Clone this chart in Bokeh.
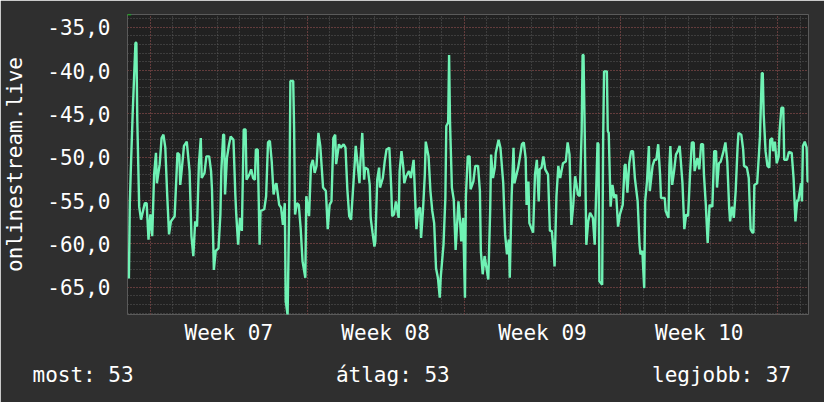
from bokeh.plotting import figure
from bokeh.models import Range1d, FixedTicker, Grid, Label, Title
from bokeh.embed import file_html
from bokeh.resources import INLINE

# hours from Monday 00:00 of week 07
hours = [-23, -22, -21, -19, -16, -15, -14, -12, -10, -6, -4, -2, 0, 2, 4, 6, 7, 10, 12, 14,
         16, 18, 20, 22, 26, 28, 29, 31, 32, 34, 36, 39, 42, 44, 46, 48, 50, 52, 54, 55,
         58, 60, 63, 65, 66, 68, 70, 73, 75, 76, 78, 79, 80, 82, 84, 86, 89, 91, 92, 94,
         96, 98, 100, 102, 103, 106, 108, 110, 112, 113, 115, 117, 118, 122, 124, 126, 128, 130, 132, 134,
         135, 138, 140, 142, 144, 145, 147, 149, 150, 153, 154, 155, 157, 159, 161, 163, 166, 167, 170, 172,
         174, 176, 178, 180, 182, 185, 188, 190, 192, 194, 196, 198, 199, 202, 204, 207, 209, 211, 213, 215,
         219, 220, 222, 224, 225, 227, 229, 230, 233, 235, 236, 238, 240, 241, 243, 245, 246, 249, 251, 253,
         256, 258, 259, 261, 263, 266, 267, 269, 271, 272, 274, 277, 279, 282, 284, 285, 287, 289, 290, 292,
         294, 295, 298, 300, 302, 304, 306, 308, 310, 311, 314, 316, 317, 319, 320, 321, 323, 325, 327, 330,
         332, 333, 335, 337, 338, 340, 342, 343, 346, 348, 351, 353, 354, 356, 358, 362, 364, 365, 367, 369,
         370, 373, 375, 378, 380, 382, 384, 385, 387, 389, 390, 394, 396, 398, 400, 402, 403, 405, 406, 410,
         412, 414, 416, 417, 419, 421, 423, 426, 428, 430, 432, 433, 435, 437, 439, 442, 445, 447, 449, 451,
         453, 455, 458, 460, 462, 463, 464, 465, 466, 467, 469, 471, 474, 476, 479, 480, 481, 484, 485, 486,
         489, 490, 491, 493, 495, 497, 499, 501, 503, 506, 508, 509, 511, 513, 515, 517, 519, 522, 524, 525,
         527, 529, 530, 532, 534, 535, 538, 540, 542, 544, 546, 547, 551, 552, 555, 556, 557, 559, 561, 563,
         565, 567, 570, 572, 574, 576, 578, 580, 582, 583, 586, 588, 590, 592, 593, 595, 597, 599, 602, 604,
         606, 607, 609, 611, 614, 616, 618, 620, 621, 623, 625, 627, 629, 630, 633, 635, 636, 639, 641, 643,
         645, 646, 647, 650, 652, 653, 655, 656, 657, 659, 661, 663, 664, 666, 667, 669, 671, 673, 674, 676,
         678, 679, 682, 684, 687, 689, 691, 693, 694, 697, 698, 699, 701, 703, 704, 705]

values = [-64.0, -55.3, -51.6, -45.1, -36.8, -36.8, -45.8, -55.7, -57.2, -55.3, -55.3, -59.5, -56.6, -59.1, -52.0, -49.5, -53.0, -50.8, -47.8, -47.4,
          -48.9, -54.3, -58.9, -57.4, -56.8, -52.0, -49.5, -49.7, -53.2, -51.0, -48.7, -48.2, -51.6, -59.1, -61.4, -57.4, -58.0, -50.8, -47.8, -52.4,
          -51.8, -49.9, -49.9, -51.6, -53.7, -63.0, -60.8, -60.5, -56.6, -51.6, -47.4, -47.4, -54.3, -50.1, -48.7, -47.6, -48.0, -54.3, -56.6, -60.1,
          -57.0, -58.5, -46.8, -46.8, -52.6, -52.0, -51.4, -52.4, -52.6, -49.1, -49.1, -60.1, -56.2, -56.0, -54.5, -48.3, -48.1, -50.5, -54.3, -53.2,
          -53.0, -55.5, -55.8, -57.8, -55.3, -66.6, -68.2, -53.7, -41.2, -41.2, -46.8, -56.6, -55.3, -55.5, -58.2, -62.0, -63.9, -54.5, -56.8, -51.0,
          -50.3, -51.8, -51.0, -47.2, -48.7, -53.5, -53.9, -58.3, -55.5, -55.1, -47.8, -47.4, -50.8, -48.5, -48.9, -48.5, -48.9, -53.7, -56.8, -57.2,
          -50.5, -48.7, -50.8, -53.0, -50.5, -47.2, -52.6, -51.2, -51.4, -53.2, -57.0, -58.7, -60.3, -59.7, -52.6, -51.2, -53.5, -52.4, -50.5, -49.1,
          -48.9, -53.5, -56.8, -56.6, -55.1, -57.0, -51.6, -49.3, -51.2, -53.0, -52.2, -51.6, -52.4, -50.3, -55.7, -58.3, -56.0, -55.8, -59.3, -56.2,
          -52.0, -48.2, -49.9, -53.9, -56.2, -57.6, -62.8, -63.9, -66.2, -63.9, -60.1, -54.7, -46.4, -46.0, -38.2, -46.0, -53.5, -54.9, -60.7, -55.1,
          -57.8, -59.7, -57.0, -66.2, -54.5, -49.9, -49.9, -53.7, -52.8, -51.0, -51.0, -53.9, -60.8, -63.5, -61.4, -64.1, -56.2, -49.7, -52.4, -51.2,
          -49.5, -48.0, -48.9, -53.0, -58.9, -61.2, -59.5, -63.9, -54.5, -48.9, -53.0, -51.2, -49.9, -48.5, -48.3, -50.1, -55.5, -52.8, -57.6, -58.7,
          -52.0, -50.3, -55.1, -51.4, -51.2, -49.9, -51.4, -52.0, -58.5, -58.5, -61.0, -62.6, -54.5, -51.0, -52.4, -50.7, -50.5, -48.3, -49.7, -57.8,
          -55.5, -52.2, -54.3, -54.5, -47.0, -38.2, -38.2, -45.1, -52.2, -60.1, -57.4, -56.4, -57.0, -60.1, -48.3, -48.5, -64.3, -64.7, -48.2, -40.1,
          -40.1, -47.0, -47.2, -55.7, -53.2, -54.7, -54.3, -58.0, -56.6, -55.5, -51.0, -50.8, -54.1, -50.7, -49.3, -49.3, -52.4, -55.1, -60.1, -61.2,
          -60.8, -65.1, -55.1, -52.8, -48.7, -53.9, -51.0, -50.3, -50.3, -48.5, -52.0, -54.7, -54.7, -56.2, -57.0, -51.0, -48.7, -53.2, -51.6, -49.7,
          -49.3, -48.7, -53.0, -58.3, -56.6, -56.8, -52.2, -48.3, -48.3, -51.6, -50.1, -51.4, -48.5, -48.5, -52.0, -55.5, -59.9, -55.5, -55.7, -49.3,
          -49.3, -53.5, -50.7, -50.5, -49.3, -48.3, -50.5, -55.8, -57.4, -55.7, -57.0, -53.9, -48.9, -47.2, -47.4, -49.1, -51.0, -51.2, -52.4, -58.3,
          -58.7, -58.7, -53.2, -53.0, -49.5, -47.6, -40.3, -40.3, -45.1, -49.3, -51.0, -51.2, -48.0, -47.8, -49.3, -48.2, -50.7, -49.9, -47.0, -44.3,
          -44.3, -50.3, -50.3, -49.4, -49.5, -52.4, -57.4, -54.9, -55.1, -53.0, -55.1, -48.7, -48.2, -48.9, -52.8, -52.8]

week_starts = [0, 168, 336, 504, 672]
week_mids = [84, 252, 420, 588]
week_labels = ["Week 07", "Week 08", "Week 09", "Week 10"]
day_lines = list(range(-24, 706, 24))
y_major = [-65, -60, -55, -50, -45, -40, -35]
y_major_labels = ["-65,0", "-60,0", "-55,0", "-50,0", "-45,0", "-40,0", "-35,0"]
y_minor = list(range(-68, -33))
series_name = "onlinestream.live"
stats = ["most: 53", "átlag: 53", "legjobb: 37"]

BG = "#2f2f2f"
PLOT_BG = "#212121"
MINOR = "#5a5a5a"
MAJOR = "#8a3c3c"
LINE = "#6ff2b4"
TEXT = "#ffffff"
FONT = "DejaVu Sans Mono"
FS = "21px"

p = figure(width=824, height=402, output_backend="svg", toolbar_location=None,
           x_range=Range1d(-24.5, 705), y_range=Range1d(-68.14, -33.54),
           min_border_left=124, min_border_right=16, min_border_top=14, min_border_bottom=88)
p.background_fill_color = PLOT_BG
p.border_fill_color = BG
p.outline_line_color = None

# grids
p.xgrid.ticker = FixedTicker(ticks=day_lines)
p.ygrid.ticker = FixedTicker(ticks=y_minor)
for g in (p.xgrid, p.ygrid):
    g.grid_line_color = MINOR
    g.grid_line_dash = "1 2"
    g.grid_line_width = 1
p.add_layout(Grid(dimension=0, ticker=FixedTicker(ticks=week_starts),
                  grid_line_color=MAJOR, grid_line_dash="1 2", grid_line_width=1))
p.add_layout(Grid(dimension=1, ticker=FixedTicker(ticks=y_major),
                  grid_line_color=MAJOR, grid_line_dash="1 2", grid_line_width=1))

# axes
p.yaxis.ticker = FixedTicker(ticks=y_major)
p.yaxis.major_label_overrides = {t: l for t, l in zip(y_major, y_major_labels)}
p.xaxis.ticker = FixedTicker(ticks=week_mids)
p.xaxis.major_label_overrides = {t: l for t, l in zip(week_mids, week_labels)}
for ax in (p.xaxis, p.yaxis):
    ax.axis_line_color = None
    ax.major_tick_line_color = None
    ax.minor_tick_line_color = None
    ax.major_tick_out = 0
    ax.major_label_text_font = FONT
    ax.major_label_text_font_size = FS
    ax.major_label_text_color = TEXT
p.yaxis.major_label_standoff = 17
p.xaxis.major_label_standoff = 6
p.yaxis.axis_label = series_name
p.yaxis.axis_label_text_font = FONT
p.yaxis.axis_label_text_font_size = FS
p.yaxis.axis_label_text_font_style = "normal"
p.yaxis.axis_label_text_color = TEXT
p.yaxis.axis_label_standoff = 17

p.line(hours, values, line_color=LINE, line_width=2.4)

# footer statistics (monospace, padded with non-breaking spaces)
gap = "\u00a0" * 16
footer = Title(text=stats[0] + gap + stats[1] + gap + stats[2], align="left", offset=-95,
               text_font=FONT, text_font_size=FS, text_font_style="normal",
               text_color=TEXT, standoff=26)
p.add_layout(footer, "below")

# axis arrows
p.add_layout(Label(x=0, y=304, x_units="screen", y_units="screen", text="▲",
                   text_font="DejaVu Sans", text_font_size="10px", text_color="#00d000",
                   text_align="center", text_baseline="middle"))
p.add_layout(Label(x=692, y=0, x_units="screen", y_units="screen", text="▶",
                   text_font="DejaVu Sans", text_font_size="10px", text_color="#00d000",
                   text_align="center", text_baseline="middle"))

open("out.html", "w").write(file_html(p, INLINE))
